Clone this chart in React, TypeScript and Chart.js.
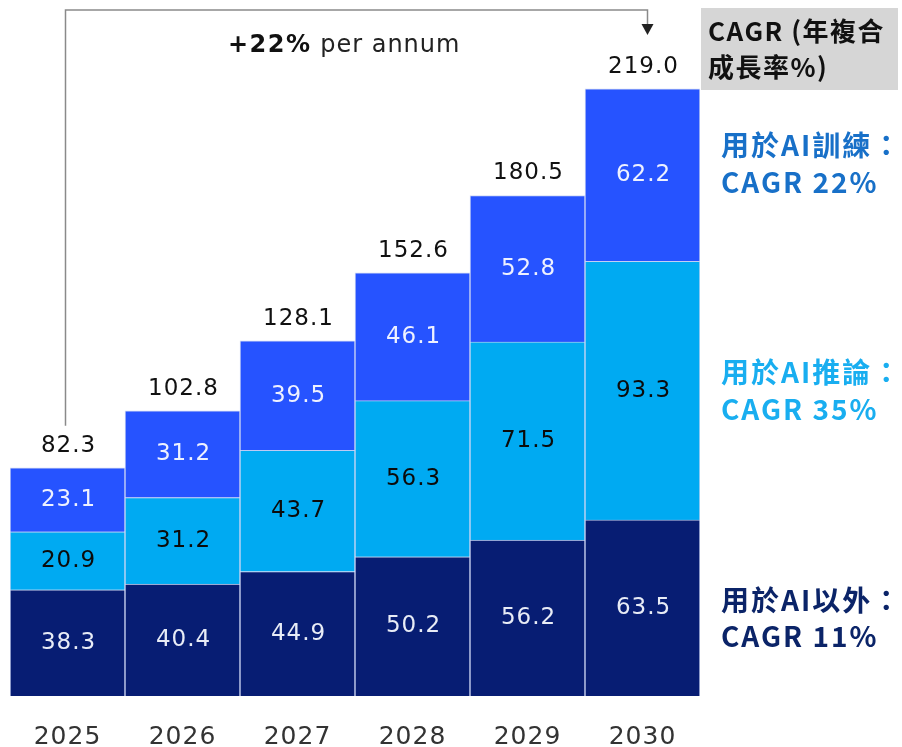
import React, { useEffect, useRef } from "react";
import { Chart, registerables } from "chart.js";

Chart.register(...registerables);

const years = ["2025", "2026", "2027", "2028", "2029", "2030"];
const nonAI = [38.3, 40.4, 44.9, 50.2, 56.2, 63.5];
const inference = [20.9, 31.2, 43.7, 56.3, 71.5, 93.3];
const training = [23.1, 31.2, 39.5, 46.1, 52.8, 62.2];
const totals = [82.3, 102.8, 128.1, 152.6, 180.5, 219.0];

const seriesNames = ["用於AI以外", "用於AI推論", "用於AI訓練"];
const seriesCagr = ["CAGR 11%", "CAGR 35%", "CAGR 22%"];
const growthBold = "+22%";
const growthText = " per annum";
const boxLines = ["CAGR (年複合", "成長率%)"];

const NAVY = "#071d73";
const LIGHT = "#00aaf2";
const BRIGHT = "#2653ff";
const numFont = '"DejaVu Sans", "Liberation Sans", sans-serif';
const cjkFont = '"Noto Sans CJK TC", "Noto Sans", sans-serif';

const spacing = {
  id: "spacing",
  beforeDraw(chart: any) {
    chart.ctx.letterSpacing = "1px";
  },
};

const overlay = {
  id: "overlay",
  afterDatasetsDraw(chart: any) {
    const ctx = chart.ctx;
    const x = chart.scales.x;
    const y = chart.scales.y;
    ctx.save();
    ctx.letterSpacing = "1px";
    // segment labels
    const textColors = ["#e8ecf6", "#0b0b0b", "#eef1ff"];
    chart.data.datasets.forEach((ds: any, di: number) => {
      const meta = chart.getDatasetMeta(di);
      meta.data.forEach((bar: any, i: number) => {
        const cy = (bar.y + bar.base) / 2;
        ctx.font = `23px ${numFont}`;
        ctx.fillStyle = textColors[di];
        ctx.textAlign = "center";
        ctx.textBaseline = "middle";
        ctx.fillText(ds.data[i].toFixed(1), bar.x + 1, cy);
      });
    });
    // totals
    totals.forEach((t, i) => {
      ctx.font = `23px ${numFont}`;
      ctx.fillStyle = "#111";
      ctx.textAlign = "center";
      ctx.textBaseline = "middle";
      ctx.fillText(t.toFixed(1), x.getPixelForValue(i) + 1, y.getPixelForValue(t) - 22);
    });
    // bracket
    const lx = x.getPixelForValue(0) - 2;
    const rx = x.getPixelForValue(5) + 5;
    const topY = 10;
    ctx.strokeStyle = "#8a8a8a";
    ctx.lineWidth = 1.5;
    ctx.beginPath();
    ctx.moveTo(lx, y.getPixelForValue(totals[0]) - 42);
    ctx.lineTo(lx, topY);
    ctx.lineTo(rx, topY);
    ctx.lineTo(rx, 26);
    ctx.stroke();
    ctx.fillStyle = "#222";
    ctx.beginPath();
    ctx.moveTo(rx - 6, 24);
    ctx.lineTo(rx + 6, 24);
    ctx.lineTo(rx, 35);
    ctx.closePath();
    ctx.fill();
    // +22% per annum
    ctx.textAlign = "left";
    ctx.textBaseline = "middle";
    ctx.letterSpacing = "1.5px";
    ctx.font = `bold 24px ${numFont}`;
    ctx.fillStyle = "#111";
    const bx = 228;
    ctx.fillText(growthBold, bx, 46);
    const w = ctx.measureText(growthBold).width;
    ctx.letterSpacing = "1px";
    ctx.font = `24px ${numFont}`;
    ctx.fillStyle = "#222";
    ctx.fillText(growthText, bx + w, 46);
    // grey box
    ctx.fillStyle = "#d6d6d6";
    ctx.fillRect(701, 8, 197, 82);
    ctx.fillStyle = "#111";
    ctx.letterSpacing = "1.5px";
    ctx.font = `bold 26px ${cjkFont}`;
    ctx.fillText(boxLines[0], 708, 31);
    ctx.fillText(boxLines[1], 708, 67);
    // right-side series labels
    const labColors = ["#0b2468", "#19aef0", "#1870c8"];
    const labY = [[600, 636], [372, 409], [145, 182]];
    ctx.letterSpacing = "2px";
    for (let k = 0; k < 3; k++) {
      ctx.fillStyle = labColors[k];
      ctx.font = `bold 28px ${cjkFont}`;
      ctx.fillText(seriesNames[k] + "：", 721, labY[k][0]);
      ctx.fillText(seriesCagr[k], 721, labY[k][1]);
    }
    ctx.restore();
  },
};

export default function App() {
  const ref = useRef<HTMLCanvasElement | null>(null);
  useEffect(() => {
    if (!ref.current) return;
    const mk = (label: string, data: number[], color: string) => ({
      label,
      data,
      backgroundColor: color,
      borderColor: "rgba(170,185,235,0.55)",
      borderWidth: 1,
      barPercentage: 1,
      categoryPercentage: 1,
    });
    const chart = new Chart(ref.current, {
      type: "bar",
      data: {
        labels: years,
        datasets: [
          mk(seriesNames[0], nonAI, NAVY),
          mk(seriesNames[1], inference, LIGHT),
          mk(seriesNames[2], training, BRIGHT),
        ],
      },
      options: {
        animation: false,
        responsive: false,
        maintainAspectRatio: false,
        layout: { padding: { left: 10, right: 202, top: 0, bottom: 0 } },
        plugins: { legend: { display: false }, tooltip: { enabled: false } },
        scales: {
          x: {
            stacked: true,
            grid: { display: false, drawTicks: false },
            border: { display: false },
            ticks: { color: "#333", font: { size: 25, family: numFont }, padding: 26 },
          },
          y: {
            stacked: true,
            display: false,
            min: 0,
            max: 251,
          },
        },
      },
      plugins: [spacing, overlay],
    });
    return () => chart.destroy();
  }, []);
  return (
    <div style={{ position: "fixed", left: 0, top: 0, width: 902, height: 747, background: "#fff", overflow: "hidden" }}>
      <canvas ref={ref} width={902} height={778} style={{ width: 902, height: 778 }} />
    </div>
  );
}
